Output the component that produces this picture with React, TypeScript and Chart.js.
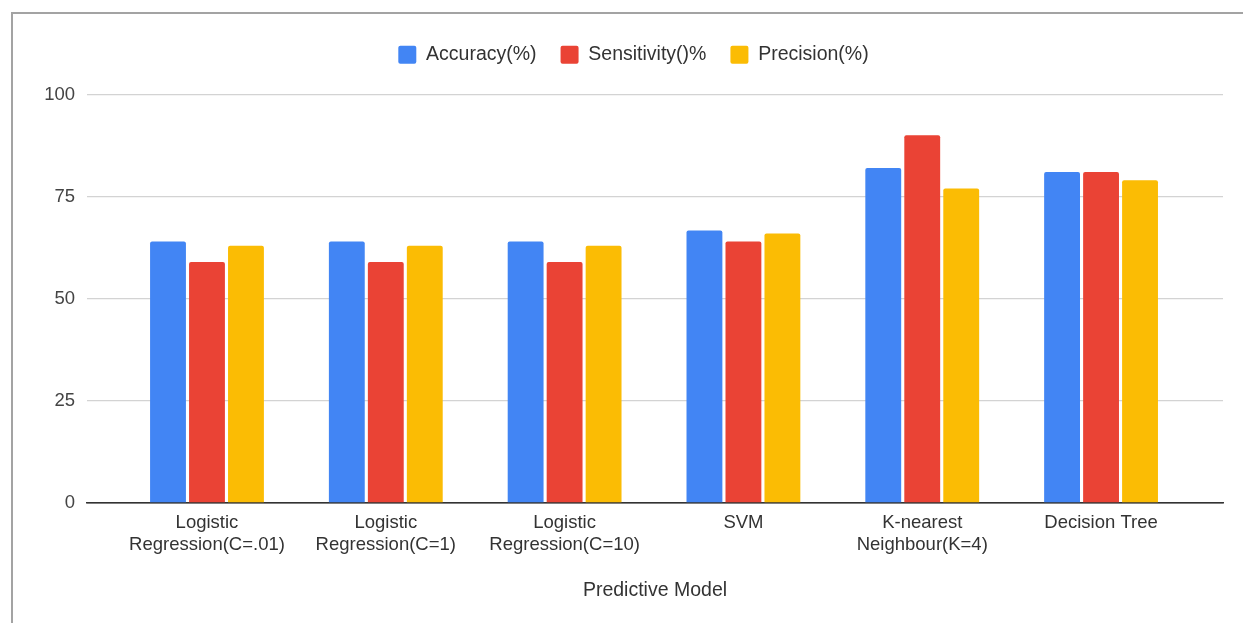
import React, { useEffect, useRef } from "react";
import { Chart, registerables } from "chart.js";

Chart.register(...registerables);

// Models compared on the x axis (each label split over lines)
const models: string[][] = [
  ["Logistic", "Regression(C=.01)"],
  ["Logistic", "Regression(C=1)"],
  ["Logistic", "Regression(C=10)"],
  ["SVM"],
  ["K-nearest", "Neighbour(K=4)"],
  ["Decision Tree"],
];

// Scores per model, in percent
const accuracy = [64, 64, 64, 66.7, 82, 81];
const sensitivity = [59, 59, 59, 64, 90, 81];
const precision = [63, 63, 63, 66, 77, 79];

const yTicks = [0, 25, 50, 75, 100];

const FONT = '"Liberation Sans", Arial, sans-serif';

export default function App() {
  const canvasRef = useRef<HTMLCanvasElement | null>(null);

  useEffect(() => {
    if (!canvasRef.current) return;
    const toPoints = (vals: number[]) => vals.map((y, i) => ({ x: i, y }));
    const barStyle = {
      categoryPercentage: 0.654,
      barPercentage: 0.92,
      borderRadius: { topLeft: 2, topRight: 2, bottomLeft: 0, bottomRight: 0 },
      borderSkipped: "start" as const,
    };
    const chart = new Chart(canvasRef.current, {
      type: "bar",
      data: {
        datasets: [
          { label: "Accuracy(%)", data: toPoints(accuracy), backgroundColor: "#4285F4", ...barStyle },
          { label: "Sensitivity()%", data: toPoints(sensitivity), backgroundColor: "#EA4335", ...barStyle },
          { label: "Precision(%)", data: toPoints(precision), backgroundColor: "#FBBC04", ...barStyle },
        ],
      },
      options: {
        animation: false,
        responsive: false,
        maintainAspectRatio: false,
        layout: { padding: { top: 6, right: 20, left: 30, bottom: 0 } },
        plugins: {
          tooltip: { enabled: false },
          // empty spacer between the legend and the plot area
          title: {
            display: true,
            text: "",
            weight: 500,
            font: { size: 10, lineHeight: 1 },
            padding: { top: 5, bottom: 5 },
          },
          legend: {
            position: "top",
            align: "center",
            labels: {
              boxWidth: 18,
              boxHeight: 18,
              useBorderRadius: true,
              borderRadius: 2,
              padding: 24,
              color: "#333",
              font: { family: FONT, size: 19.5 },
            },
          },
        },
        scales: {
          x: {
            type: "linear",
            offset: false,
            min: -0.671,
            max: 5.682,
            grid: { display: false, drawTicks: false },
            border: { display: true, color: "#333", width: 1.5 },
            afterBuildTicks: (scale: any) => {
              scale.ticks = models.map((_, i) => ({ value: i }));
            },
            afterFit: (scale: any) => {
              scale.height = 120;
            },
            ticks: {
              autoSkip: false,
              maxRotation: 0,
              padding: 9,
              color: "#333",
              font: { family: FONT, size: 18.5, lineHeight: 1.17 },
              callback: (v: any) => models[v as number] ?? "",
            },
            title: {
              display: true,
              text: "Predictive Model",
              color: "#333",
              font: { family: FONT, size: 19.5 },
              padding: { top: 4, bottom: 21 },
            },
          },
          y: {
            min: 0,
            max: 100,
            afterBuildTicks: (scale: any) => {
              scale.ticks = yTicks.map((value) => ({ value }));
            },
            afterFit: (scale: any) => {
              scale.width = 43;
            },
            grid: {
              drawTicks: false,
              color: (ctx: any) => (ctx.tick && ctx.tick.value === 0 ? "#333" : "#d3d3d3"),
              lineWidth: 1.3,
            },
            border: { display: false },
            ticks: {
              padding: 12,
              color: "#444",
              font: { family: FONT, size: 18.5 },
            },
          },
        },
      },
    } as any);
    return () => chart.destroy();
  }, []);

  return (
    <div
      style={{
        position: "fixed",
        left: 0,
        top: 0,
        width: 1243,
        height: 623,
        background: "#fff",
        overflow: "hidden",
      }}
    >
      <div
        style={{
          position: "absolute",
          left: 11,
          top: 12,
          right: -4,
          bottom: -4,
          borderTop: "2px solid #a3a3a3",
          borderLeft: "2px solid #a3a3a3",
        }}
      />
      <canvas
        ref={canvasRef}
        width={1229}
        height={608}
        style={{ position: "absolute", left: 14, top: 15, width: 1229, height: 608 }}
      />
    </div>
  );
}
